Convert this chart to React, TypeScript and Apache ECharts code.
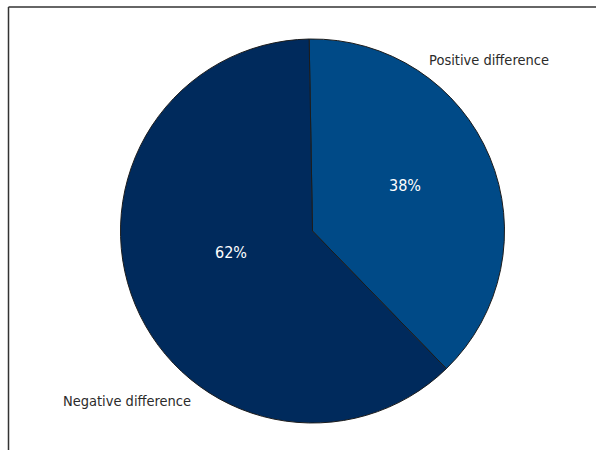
import React, { useEffect, useRef } from "react";
import * as echarts from "echarts";

const categories = ["Positive difference", "Negative difference"];
const values = [38, 62];
const colors = ["#004a87", "#002a5c"];

const FONT = "'DejaVu Sans Condensed', 'Liberation Sans Narrow', Roboto, sans-serif";

export default function App() {
  const ref = useRef<HTMLDivElement>(null);
  useEffect(() => {
    if (!ref.current) return;
    const chart = echarts.init(ref.current, undefined, { renderer: "svg" });
    const data = categories.map((name, i) => ({
      name,
      value: values[i],
      itemStyle: { color: colors[i] },
    }));
    const pctPos = [
      [405, 185],
      [231, 252],
    ];
    const namePos = [
      [489, 60],
      [127, 401],
    ];
    chart.setOption({
      animation: false,
      backgroundColor: "#ffffff",
      graphic: [
        {
          type: "line",
          shape: { x1: 8.5, y1: 7, x2: 596, y2: 7 },
          style: { stroke: "#333333", lineWidth: 1.5 },
        },
        {
          type: "line",
          shape: { x1: 8.5, y1: 7, x2: 8.5, y2: 450 },
          style: { stroke: "#333333", lineWidth: 1.5 },
        },
      ],
      series: [
        {
          type: "pie",
          center: [312.5, 231],
          radius: 192,
          startAngle: 91,
          clockwise: true,
          data,
          itemStyle: { borderColor: "#1c1c1c", borderWidth: 1 },
          label: {
            show: true,
            position: "inside",
            formatter: "{c}%",
            color: "#ffffff",
            fontFamily: FONT,
            fontSize: 16,
          },
          labelLayout: (p: any) => ({
            x: pctPos[p.dataIndex][0],
            y: pctPos[p.dataIndex][1],
            align: "center",
            verticalAlign: "middle",
          }),
          labelLine: { show: false },
          emphasis: { disabled: true },
        },
        {
          type: "pie",
          center: [312.5, 231],
          radius: 192,
          startAngle: 91,
          clockwise: true,
          silent: true,
          data: categories.map((name, i) => ({ name, value: values[i] })),
          itemStyle: { color: "rgba(0,0,0,0)", borderWidth: 0 },
          label: {
            show: true,
            position: "outside",
            formatter: "{b}",
            color: "#2b2b2b",
            fontFamily: FONT,
            fontSize: 14.5,
            overflow: "none",
            width: 300,
          },
          labelLayout: (p: any) => ({
            x: namePos[p.dataIndex][0],
            y: namePos[p.dataIndex][1],
            align: "center",
            verticalAlign: "middle",
          }),
          labelLine: { show: false },
          emphasis: { disabled: true },
        },
      ],
    });
    return () => chart.dispose();
  }, []);
  return (
    <div
      ref={ref}
      style={{ position: "fixed", left: 0, top: 0, width: 596, height: 450 }}
    />
  );
}
